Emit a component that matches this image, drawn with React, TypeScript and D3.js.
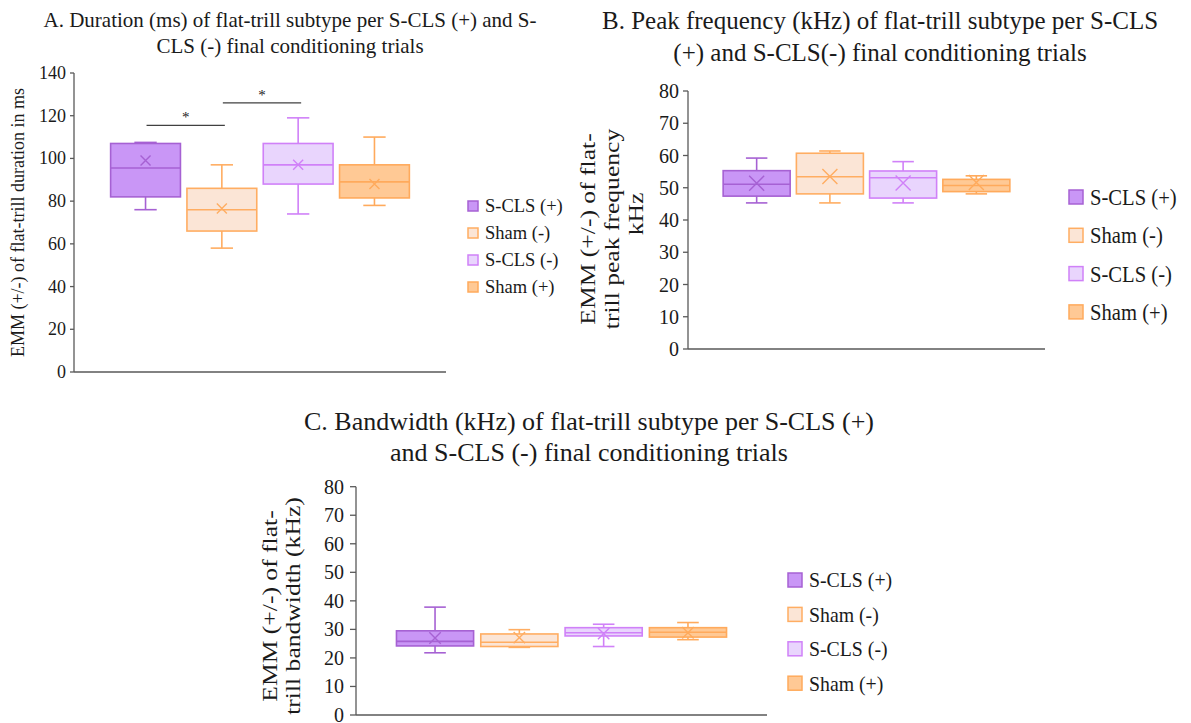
import React from "react";
import * as d3 from "d3";

// Group names, in plotting order
const groups = ["S-CLS (+)", "Sham (-)", "S-CLS (-)", "Sham (+)"];

// A. Duration (ms)
const durationMin = [76, 58, 74, 78];
const durationQ1 = [82, 66, 88, 81.5];
const durationMedian = [95.5, 76, 97, 89];
const durationQ3 = [107, 86, 107, 97];
const durationMax = [107.5, 97, 119, 110];
const durationMean = [99, 76.5, 97, 88];
const durationTicks = [0, 20, 40, 60, 80, 100, 120, 140];
const durationSig = [
  { from: 0, to: 1, level: 115.5, label: "*" },
  { from: 1, to: 2, level: 126, label: "*" },
];

// B. Peak frequency (kHz)
const peakMin = [45.3, 45.3, 45.3, 48.1];
const peakQ1 = [47.4, 48.1, 46.8, 48.8];
const peakMedian = [51.1, 53.4, 53.1, 50.7];
const peakQ3 = [55.3, 60.7, 55.2, 52.6];
const peakMax = [59.2, 61.4, 58.1, 53.7];
const peakMean = [51.4, 53.5, 51.5, 51.6];
const peakTicks = [0, 10, 20, 30, 40, 50, 60, 70, 80];

// C. Bandwidth (kHz)
const bwMin = [21.8, 23.7, 24, 26.4];
const bwQ1 = [24.2, 24, 27.7, 27.3];
const bwMedian = [25.8, 25.5, 28.8, 29];
const bwQ3 = [29.5, 28.4, 30.6, 30.6];
const bwMax = [37.8, 29.9, 31.8, 32.4];
const bwMean = [27, 27.1, 28.5, 28.8];
const bwTicks = [0, 10, 20, 30, 40, 50, 60, 70, 80];

const fills = ["#c996f6", "#fbe5d6", "#e9d5fd", "#ffc995"];
const strokes = ["#a661d3", "#ffad62", "#d081f8", "#ffaa5c"];

const FONT = "'Liberation Serif', 'Times New Roman', serif";
const INK = "#1a1a1a";
const AXIS = "#595959";

type Stats = {
  min: number[];
  q1: number[];
  median: number[];
  q3: number[];
  max: number[];
  mean: number[];
};

type Layout = {
  left: number;
  right: number;
  top: number;
  bottom: number;
  yMax: number;
  ticks: number[];
  tickFont: number;
  tickLen: number;
  labelEnd: number;
  yLabel: string[];
  yLabelX: number[];
  yLabelY: number[];
  yLabelFont: number;
  yLabelStretch: number;
  title: string[];
  titleX: number[];
  titleY: number[];
  titleFont: number;
  legendX: number;
  legendY: number;
  legendGap: number;
  swatch: number;
  legendTextX: number;
  legendFont: number;
  legendStretch: number;
  cross: number;
  capFrac: number;
  strokeW: number;
};

// Text with optional rotation and stretch along the writing direction
function Txt({
  x,
  y,
  size,
  sx = 1,
  rotate = 0,
  anchor = "start",
  baseline,
  children,
}: {
  x: number;
  y: number;
  size: number;
  sx?: number;
  rotate?: number;
  anchor?: string;
  baseline?: string;
  children: React.ReactNode;
}) {
  return (
    <text
      transform={`translate(${x},${y}) rotate(${rotate}) scale(${sx},1)`}
      textAnchor={anchor}
      dominantBaseline={baseline}
      fontFamily={FONT}
      fontSize={size}
      fill={INK}
    >
      {children}
    </text>
  );
}

function BoxPanel({
  stats,
  L,
  sig,
}: {
  stats: Stats;
  L: Layout;
  sig?: { from: number; to: number; level: number; label: string }[];
}) {
  const x = d3
    .scaleBand<number>()
    .domain(d3.range(groups.length))
    .range([L.left, L.right])
    .paddingInner(0.085)
    .paddingOuter(0.48);
  const y = d3.scaleLinear().domain([0, L.yMax]).range([L.bottom, L.top]);
  const bw = x.bandwidth();
  const cap = bw * L.capFrac;

  return (
    <g>
      {/* title */}
      {L.title.map((t, i) => (
        <Txt key={"t" + i} x={L.titleX[i]} y={L.titleY[i]} size={L.titleFont} anchor="middle">
          {t}
        </Txt>
      ))}

      {/* y axis title */}
      {L.yLabel.map((t, i) => (
        <Txt
          key={"yl" + i}
          x={L.yLabelX[i]}
          y={L.yLabelY[i]}
          size={L.yLabelFont}
          sx={L.yLabelStretch}
          rotate={-90}
          anchor="middle"
          baseline="central"
        >
          {t}
        </Txt>
      ))}

      {/* y axis */}
      <line x1={L.left} x2={L.left} y1={y(L.yMax)} y2={y(0)} stroke={AXIS} strokeWidth={1.3} />
      {L.ticks.map((t) => (
        <g key={"tk" + t}>
          <line
            x1={L.left - L.tickLen}
            x2={L.left}
            y1={y(t)}
            y2={y(t)}
            stroke={AXIS}
            strokeWidth={1.3}
          />
          <Txt x={L.labelEnd} y={y(t)} size={L.tickFont} anchor="end" baseline="central">
            {t}
          </Txt>
        </g>
      ))}
      {/* x axis */}
      <line x1={L.left} x2={L.right} y1={y(0)} y2={y(0)} stroke={AXIS} strokeWidth={1.3} />

      {/* boxes */}
      {groups.map((g, i) => {
        const x0 = x(i) as number;
        const cx = x0 + bw / 2;
        const c = strokes[i];
        const m = stats.mean[i];
        const s = L.cross;
        return (
          <g key={g} strokeWidth={L.strokeW} fill="none">
            <line x1={cx} x2={cx} y1={y(stats.q3[i])} y2={y(stats.max[i])} stroke={c} />
            <line x1={cx} x2={cx} y1={y(stats.q1[i])} y2={y(stats.min[i])} stroke={c} />
            <line x1={cx - cap / 2} x2={cx + cap / 2} y1={y(stats.max[i])} y2={y(stats.max[i])} stroke={c} />
            <line x1={cx - cap / 2} x2={cx + cap / 2} y1={y(stats.min[i])} y2={y(stats.min[i])} stroke={c} />
            <rect
              x={x0}
              y={y(stats.q3[i])}
              width={bw}
              height={y(stats.q1[i]) - y(stats.q3[i])}
              fill={fills[i]}
              stroke={c}
            />
            <line x1={x0} x2={x0 + bw} y1={y(stats.median[i])} y2={y(stats.median[i])} stroke={c} />
            <path
              d={`M${cx - s},${y(m) - s}L${cx + s},${y(m) + s}M${cx - s},${y(m) + s}L${cx + s},${y(m) - s}`}
              stroke={c}
              strokeWidth={1.4}
            />
          </g>
        );
      })}

      {/* significance brackets */}
      {(sig || []).map((b, i) => {
        const xa = (x(b.from) as number) + bw / 2 + 1;
        const xb = (x(b.to) as number) + bw / 2 + 3;
        const yy = y(b.level);
        return (
          <g key={"s" + i}>
            <line x1={xa} x2={xb} y1={yy} y2={yy} stroke="#404040" strokeWidth={1.3} />
            <Txt x={(xa + xb) / 2} y={yy - 3} size={15} anchor="middle">
              {b.label}
            </Txt>
          </g>
        );
      })}

      {/* legend */}
      {groups.map((g, i) => {
        const cy = L.legendY + i * L.legendGap;
        return (
          <g key={"lg" + g}>
            <rect
              x={L.legendX}
              y={cy - L.swatch / 2}
              width={L.swatch}
              height={L.swatch}
              fill={fills[i]}
              stroke={strokes[i]}
              strokeWidth={1.5}
            />
            <Txt x={L.legendTextX} y={cy} size={L.legendFont} sx={L.legendStretch} baseline="central">
              {g}
            </Txt>
          </g>
        );
      })}
    </g>
  );
}

const layoutA: Layout = {
  left: 74,
  right: 446,
  top: 73,
  bottom: 372,
  yMax: 140,
  ticks: durationTicks,
  tickFont: 18,
  tickLen: 4,
  labelEnd: 66,
  yLabel: ["EMM (+/-) of flat-trill duration in ms"],
  yLabelX: [18],
  yLabelY: [222.5],
  yLabelFont: 18,
  yLabelStretch: 1,
  title: [
    "A. Duration (ms) of flat-trill subtype per S-CLS (+) and S-",
    "CLS (-) final conditioning trials",
  ],
  titleX: [290, 290],
  titleY: [27, 53],
  titleFont: 21,
  legendX: 468,
  legendY: 206,
  legendGap: 27,
  swatch: 10,
  legendTextX: 485,
  legendFont: 18.5,
  legendStretch: 1,
  cross: 5,
  capFrac: 0.32,
  strokeW: 1.6,
};

const layoutB: Layout = {
  left: 688,
  right: 1045,
  top: 91,
  bottom: 349,
  yMax: 80,
  ticks: peakTicks,
  tickFont: 20,
  tickLen: 5,
  labelEnd: 679,
  yLabel: ["EMM (+/-) of flat-", "trill peak frequency", "kHz"],
  yLabelX: [588, 612, 636],
  yLabelY: [229, 229, 214],
  yLabelFont: 20,
  yLabelStretch: 1.28,
  title: [
    "B. Peak frequency (kHz) of flat-trill subtype per S-CLS",
    "(+) and S-CLS(-) final conditioning trials",
  ],
  titleX: [880, 880],
  titleY: [29, 61],
  titleFont: 25,
  legendX: 1069,
  legendY: 197,
  legendGap: 38.3,
  swatch: 14,
  legendTextX: 1090,
  legendFont: 24,
  legendStretch: 0.86,
  cross: 7.5,
  capFrac: 0.32,
  strokeW: 1.6,
};

const layoutC: Layout = {
  left: 356,
  right: 767,
  top: 486.7,
  bottom: 715,
  yMax: 80,
  ticks: bwTicks,
  tickFont: 20,
  tickLen: 6,
  labelEnd: 344,
  yLabel: ["EMM (+/-) of flat-", "trill bandwidth (kHz)"],
  yLabelX: [270, 293],
  yLabelY: [606, 606],
  yLabelFont: 20,
  yLabelStretch: 1.28,
  title: [
    "C. Bandwidth (kHz) of flat-trill subtype per S-CLS (+)",
    "and S-CLS (-) final conditioning trials",
  ],
  titleX: [589, 589],
  titleY: [430, 461],
  titleFont: 26,
  legendX: 788,
  legendY: 580,
  legendGap: 34.4,
  swatch: 14,
  legendTextX: 809,
  legendFont: 22,
  legendStretch: 0.9,
  cross: 5.7,
  capFrac: 0.28,
  strokeW: 1.6,
};

export default function App() {
  const durationStats: Stats = {
    min: durationMin,
    q1: durationQ1,
    median: durationMedian,
    q3: durationQ3,
    max: durationMax,
    mean: durationMean,
  };
  const peakStats: Stats = {
    min: peakMin,
    q1: peakQ1,
    median: peakMedian,
    q3: peakQ3,
    max: peakMax,
    mean: peakMean,
  };
  const bwStats: Stats = {
    min: bwMin,
    q1: bwQ1,
    median: bwMedian,
    q3: bwQ3,
    max: bwMax,
    mean: bwMean,
  };
  return (
    <svg
      width={1191}
      height={723}
      viewBox="0 0 1191 723"
      style={{ position: "absolute", left: 0, top: 0, display: "block", background: "#fff" }}
    >
      <rect width={1191} height={723} fill="#fff" />
      <BoxPanel stats={durationStats} L={layoutA} sig={durationSig} />
      <BoxPanel stats={peakStats} L={layoutB} />
      <BoxPanel stats={bwStats} L={layoutC} />
    </svg>
  );
}
